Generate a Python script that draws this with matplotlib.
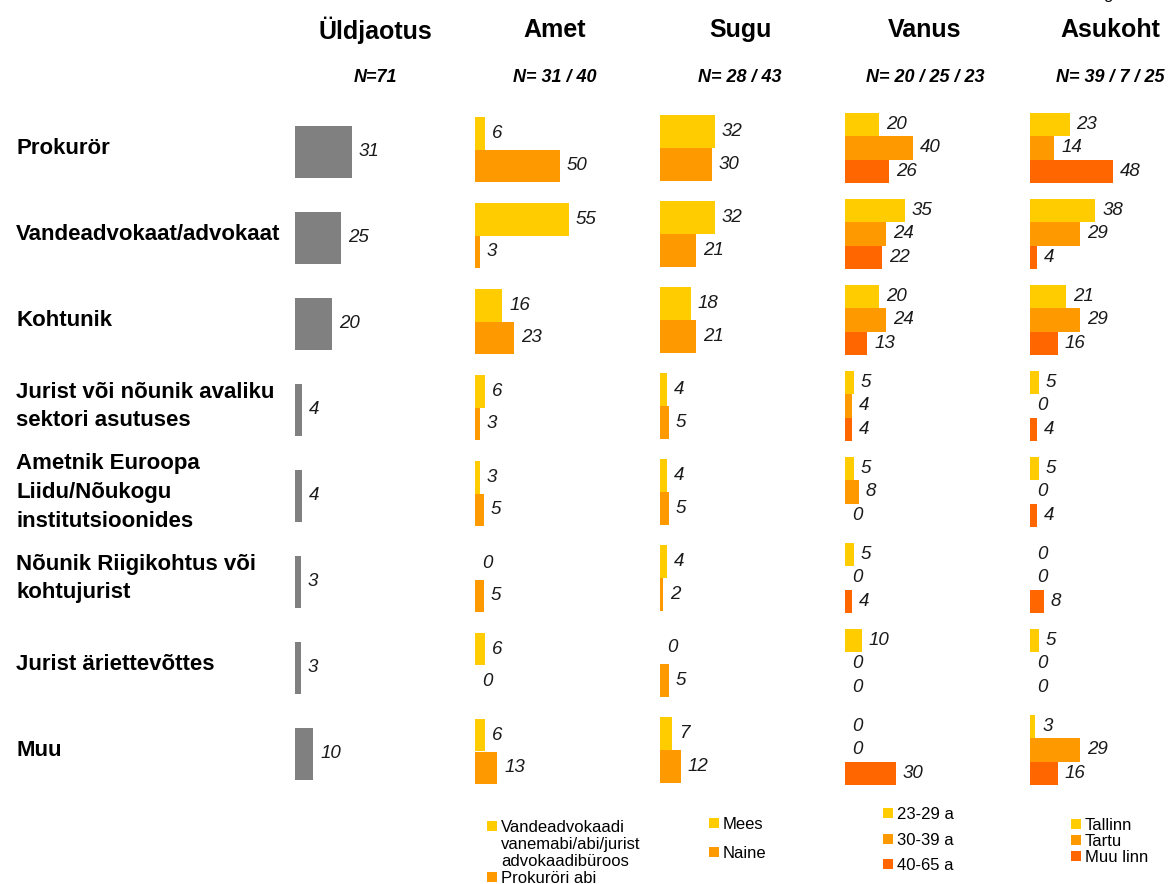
import matplotlib
matplotlib.use("Agg")
import matplotlib.pyplot as plt
import matplotlib.transforms as mtransforms
from matplotlib.patches import Rectangle
import numpy as np

plt.rcParams['font.family'] = ['Liberation Sans', 'DejaVu Sans']

rows = ['Prokurör', 'Vandeadvokaat/advokaat', 'Kohtunik',
        'Jurist või nõunik avaliku\nsektori asutuses',
        'Ametnik Euroopa\nLiidu/Nõukogu\ninstitutsioonides',
        'Nõunik Riigikohtus või\nkohtujurist', 'Jurist äriettevõttes', 'Muu']

titles = ['Üldjaotus', 'Amet', 'Sugu', 'Vanus', 'Asukoht']
n_labels = ['N=71', 'N= 31 / 40', 'N= 28 / 43', 'N= 20 / 25 / 23', 'N= 39 / 7 / 25']

yldjaotus = [31, 25, 20, 4, 4, 3, 3, 10]

amet_labels = ['Vandeadvokaadi\nvanemabi/abi/jurist\nadvokaadibüroos', 'Prokuröri abi']
amet_abi = [6, 55, 16, 6, 3, 0, 6, 6]
amet_prok = [50, 3, 23, 3, 5, 5, 0, 13]

sugu_labels = ['Mees', 'Naine']
sugu_mees = [32, 32, 18, 4, 4, 4, 0, 7]
sugu_naine = [30, 21, 21, 5, 5, 2, 5, 12]

vanus_labels = ['23-29 a', '30-39 a', '40-65 a']
vanus_23 = [20, 35, 20, 5, 5, 5, 10, 0]
vanus_30 = [40, 24, 24, 4, 8, 0, 0, 0]
vanus_40 = [26, 22, 13, 4, 0, 4, 0, 30]

koht_labels = ['Tallinn', 'Tartu', 'Muu linn']
koht_tallinn = [23, 38, 21, 5, 5, 0, 5, 3]
koht_tartu = [14, 29, 29, 0, 0, 0, 0, 29]
koht_muu = [48, 4, 16, 4, 4, 8, 0, 16]

GRAY = '#808080'
YEL = '#FFCC00'
ORA = '#FF9900'
DORA = '#FF6600'

W, H = 1176, 884
fig = plt.figure(figsize=(W / 100, H / 100), dpi=100)

# column layout in pixels: left edge, px per unit, vertical shift
cols = [(295, 1.84, 4), (475, 1.70, 1.5), (660, 1.72, 0), (845, 1.70, 0), (1030, 1.72, 0)]
ax_w = 140
top_px, bot_px = 105, 793

groups = [
    ([yldjaotus], [GRAY], None, 0.6),
    ([amet_abi, amet_prok], [YEL, ORA], amet_labels, 0.38),
    ([sugu_mees, sugu_naine], [YEL, ORA], sugu_labels, 0.38),
    ([vanus_23, vanus_30, vanus_40], [YEL, ORA, DORA], vanus_labels, 0.273),
    ([koht_tallinn, koht_tartu, koht_muu], [YEL, ORA, DORA], koht_labels, 0.273),
]

y = np.arange(len(rows))
axes = []
for (left, scale, dy), (series, colors, labels, h), title, nl in zip(cols, groups, titles, n_labels):
    ax = fig.add_axes([left / W, 1 - (bot_px + dy) / H, ax_w / W, (bot_px - top_px) / H])
    ax.set_xlim(0, ax_w / scale)
    ax.set_ylim(len(rows) - 0.5, -0.5)
    ax.axis('off')
    k = len(series)
    offs = (np.arange(k) - (k - 1) / 2) * h
    for s, c, o in zip(series, colors, offs):
        ax.barh(y + o, s, height=h, color=c, linewidth=0)
        for yi, v in zip(y + o, s):
            ax.annotate(str(v), (v, yi), xytext=(5, 0), textcoords='offset points',
                        ha='left', va='center', fontsize=13.5, style='italic',
                        color='#1a1a1a')
    cx = (left + 80) / W
    fig.text(cx, 1 - 30 / H, title, ha='center', va='center', fontsize=18,
             fontweight='bold')
    fig.text(cx, 1 - 77 / H, nl, ha='center', va='center', fontsize=13,
             fontweight='bold', style='italic')
    axes.append((ax, colors, labels))

# row labels
ax0 = axes[0][0]
trans = mtransforms.blended_transform_factory(fig.transFigure, ax0.transData)
for yi, r in zip(y, rows):
    ax0.text(16 / W, yi - 0.04, r, transform=trans, ha='left', va='center',
             fontsize=16, fontweight='bold', linespacing=1.48, clip_on=False)

# cut-off text at the top edge of the original slide
fig.text(1108 / W, 1 + 1 / H, 'g', ha='center', va='baseline', fontsize=12)

# legends: square x and the centre y of each entry's first line, in pixels
legends = [None,
           (487, [826, 877]),
           (709, [823, 852]),
           (883, [813, 839, 864]),
           (1071, [824, 840, 856])]
sq = 10
for (ax, colors, labels), lg in zip(axes, legends):
    if lg is None:
        continue
    x0, ys = lg
    for c, lab, yc in zip(colors, labels, ys):
        fig.patches.append(Rectangle((x0 / W, 1 - (yc + sq / 2) / H), sq / W, sq / H,
                                     transform=fig.transFigure, color=c, lw=0))
        fig.text((x0 + sq + 4) / W, 1 - (yc - 6) / H, lab, ha='left', va='top',
                 fontsize=12, linespacing=1.17)

fig.savefig('out.png', dpi=100)
